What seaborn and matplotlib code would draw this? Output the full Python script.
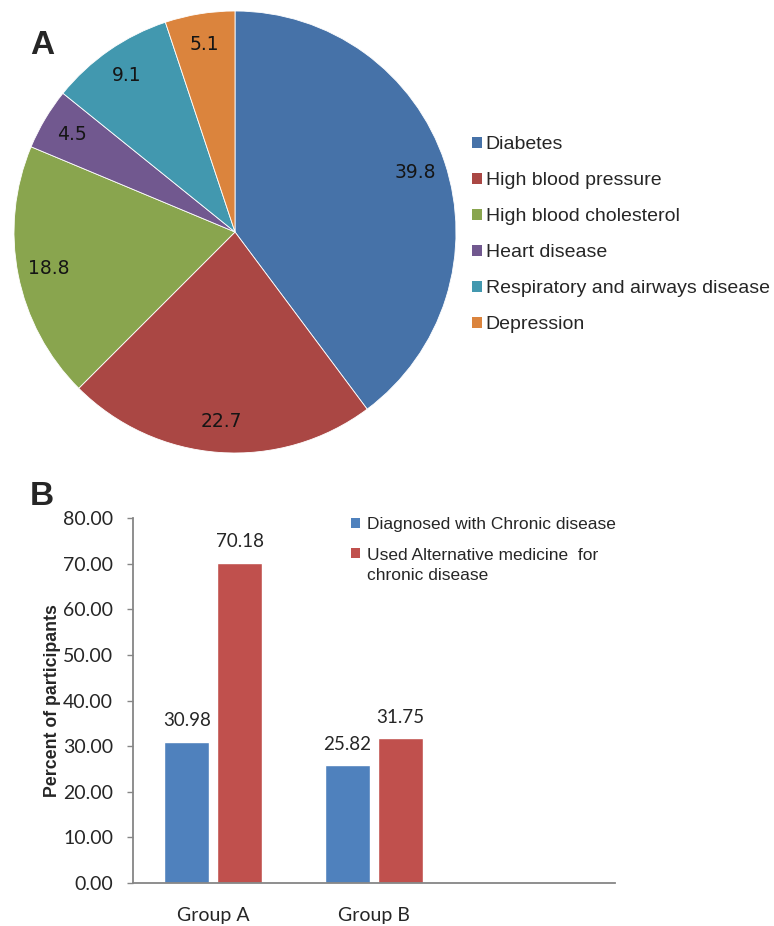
import matplotlib
matplotlib.use("Agg")
import matplotlib.pyplot as plt
from matplotlib.patches import Patch, Rectangle
from matplotlib.legend_handler import HandlerPatch
from matplotlib.ticker import FormatStrFormatter
import seaborn as sns
import pandas as pd

# Panel A: share of chronic diseases (%)
diseases = ["Diabetes", "High blood pressure", "High blood cholesterol",
            "Heart disease", "Respiratory and airways disease", "Depression"]
disease_share = [39.8, 22.7, 18.8, 4.5, 9.1, 5.1]
pie_colors = ["#4672A8", "#AA4744", "#89A54E", "#71588F", "#4298AF", "#DB843D"]

# Panel B: participants per group (%)
groups = ["Group A", "Group B"]
diagnosed = [30.98, 25.82]
used_alternative = [70.18, 31.75]
series_names = ["Diagnosed with Chronic disease",
                "Used Alternative medicine  for\nchronic disease"]
bar_colors = ["#4F81BD", "#C0504D"]
y_ticks = [0, 10, 20, 30, 40, 50, 60, 70, 80]

sns.set_theme(style="white")
plt.rcParams["font.family"] = ["Liberation Sans", "DejaVu Sans"]

W, H = 774, 926
fig = plt.figure(figsize=(W / 100, H / 100), dpi=100)

# ---- Panel A: pie ----
cx, cy, r = 235, 232, 221
m = 1.06
ax_pie = fig.add_axes([(cx - r * m) / W, 1 - (cy + r * m) / H, 2 * r * m / W, 2 * r * m / H])
wedges, _, pct_texts = ax_pie.pie(
    disease_share, colors=pie_colors, startangle=90, counterclock=False,
    autopct="%.1f", pctdistance=0.86,
    wedgeprops=dict(edgecolor="white", linewidth=0.6),
    textprops=dict(family="DejaVu Sans", fontsize=13.5, color="#151515"),
)
for t, v in zip(pct_texts, disease_share):
    t.set_text(f"{v:.1f}")
ax_pie.set_xlim(-m, m)
ax_pie.set_ylim(-m, m)

pie_handles = [Patch(facecolor=c, edgecolor="none") for c in pie_colors]
fig.legend(pie_handles, diseases, loc="upper left",
           bbox_to_anchor=(472 / W, 1 - 136 / H), frameon=False,
           fontsize=14, handlelength=0.5, handleheight=0.5,
           handletextpad=0.2, labelspacing=0.98, borderpad=0, borderaxespad=0)

fig.text(30 / W, 1 - 45 / H, "A", fontsize=24, weight="bold", va="center")
fig.text(30 / W, 1 - 496 / H, "B", fontsize=24, weight="bold", va="center")

# ---- Panel B: grouped bars ----
ax = fig.add_axes([133 / W, 1 - 883 / H, 482 / W, (883 - 518) / H])
df = pd.DataFrame({
    "group": groups * 2,
    "series": [series_names[0]] * len(groups) + [series_names[1]] * len(groups),
    "value": diagnosed + used_alternative,
})
sns.barplot(data=df, x="group", y="value", hue="series", hue_order=series_names,
            palette=bar_colors, saturation=1, width=0.66, gap=0.15,
            legend=False, ax=ax)
for cont in ax.containers:
    ax.bar_label(cont, fmt="%.2f", padding=9, fontsize=13.5, family="Lato")

ax.set_xlim(-0.5, 2.5)
ax.set_ylim(0, 80)
ax.set_yticks(y_ticks)
ax.yaxis.set_major_formatter(FormatStrFormatter("%.2f"))
ax.set_xlabel("")
ax.set_ylabel("Percent of participants", fontsize=12.8, weight="bold")
ax.yaxis.set_label_coords(-0.15, 0.5)
for lbl in ax.get_xticklabels() + ax.get_yticklabels():
    lbl.set_family("Lato")
    lbl.set_fontsize(14)
ax.tick_params(axis="y", left=True, length=4.3, width=1, color="#868686", pad=10)
ax.tick_params(axis="x", bottom=False, pad=11)
sns.despine(ax=ax)
for s in ("left", "bottom"):
    ax.spines[s].set_color("#868686")
    ax.spines[s].set_linewidth(1.3)


def raised_square(legend, orig_handle, xdescent, ydescent, width, height, fontsize):
    # keep the swatch beside the first line of a two-line label
    return Rectangle((-xdescent, -ydescent + 0.72 * fontsize), width, height)


bar_handles = [Patch(facecolor=c, edgecolor="none") for c in bar_colors]
leg = fig.legend(bar_handles, series_names, loc="upper left",
                 bbox_to_anchor=(351 / W, 1 - 517 / H), frameon=False,
                 fontsize=12.5, handlelength=0.5, handleheight=0.5,
                 handletextpad=0.4, labelspacing=0.9, borderpad=0, borderaxespad=0,
                 handler_map={bar_handles[1]: HandlerPatch(patch_func=raised_square)})
for t in leg.get_texts():
    t.set_linespacing(1.45)

fig.savefig("out.png", dpi=100)
